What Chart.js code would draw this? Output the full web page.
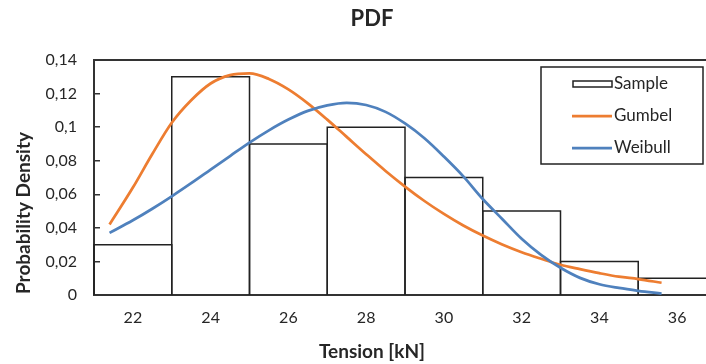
<!DOCTYPE html>
<html>
<head>
<meta charset="utf-8">
<title>PDF</title>
<script src="https://cdn.jsdelivr.net/npm/chart.js@4.4.1/dist/chart.umd.min.js"></script>
<style>
  html, body { margin: 0; padding: 0; overflow: hidden; background: #fff; }
  .chart-container { position: relative; width: 746px; height: 364px; }
</style>
</head>
<body>
<div class="chart-container"><canvas id="pdfChart"></canvas></div>
<script>
// histogram of the sample (bin centres, 2 kN wide bins)
const binCenters = [22, 24, 26, 28, 30, 32, 34, 36];
const binWidth = 2;
const sampleDensity = [0.03, 0.13, 0.09, 0.10, 0.07, 0.05, 0.02, 0.01];

// fitted densities
const curveX = [21.4, 22, 22.5, 23, 23.5, 24, 24.5, 25, 25.5, 26, 26.5, 27, 27.5, 28, 28.5,
  29, 29.5, 30, 30.5, 31, 31.5, 32, 32.5, 33, 33.5, 34, 34.5, 35, 35.6];
const gumbelPdf = [0.042, 0.064, 0.084, 0.1026, 0.116, 0.126, 0.131, 0.132, 0.1287, 0.1225,
  0.1142, 0.1045, 0.0942, 0.0839, 0.0739, 0.0646, 0.056, 0.0483, 0.0414, 0.0354, 0.0301,
  0.0255, 0.0216, 0.018, 0.0154, 0.013, 0.0109, 0.0095, 0.0073];
const weibullPdf = [0.037, 0.0445, 0.0514, 0.0588, 0.0666, 0.0747, 0.0828, 0.0908, 0.0981,
  0.1045, 0.1097, 0.113, 0.1145, 0.1132, 0.1091, 0.1022, 0.0934, 0.0825, 0.0707, 0.0572,
  0.0453, 0.0335, 0.0239, 0.0162, 0.0102, 0.0064, 0.0042, 0.0025, 0.0008];

const xTicks = [22, 24, 26, 28, 30, 32, 34, 36];

const FONT = "Lato, 'Open Sans', sans-serif";
const TEXT = "#262626";
const AXIS = "#333";

// bin outlines are stroked on the shared edges so neighbouring bins
// get one line, right after the bar dataset and below the curves
const binOutline = {
  id: "binOutline",
  afterDatasetDraw(chart, args) {
    const ds = chart.data.datasets[args.index];
    if (ds.type !== "bar") return;
    const ctx = chart.ctx;
    const xs = chart.scales.x;
    const ys = chart.scales.y;
    ctx.save();
    ctx.strokeStyle = ds.outlineColor;
    ctx.lineWidth = 1.5;
    ds.data.forEach((p) => {
      const l = xs.getPixelForValue(p.x - binWidth / 2);
      const r = xs.getPixelForValue(p.x + binWidth / 2);
      const t = ys.getPixelForValue(p.y);
      const b = ys.getPixelForValue(0);
      ctx.beginPath();
      ctx.moveTo(l, b);
      ctx.lineTo(l, t);
      ctx.lineTo(r, t);
      ctx.lineTo(r, b);
      ctx.stroke();
    });
    ctx.restore();
  }
};

// titles, plot frame top line and the boxed legend
const decor = {
  id: "decor",
  afterDraw(chart) {
    const ctx = chart.ctx;
    const area = chart.chartArea;
    ctx.save();

    ctx.strokeStyle = AXIS;
    ctx.lineWidth = 2;
    ctx.beginPath();
    ctx.moveTo(area.left, area.top);
    ctx.lineTo(area.right, area.top);
    ctx.stroke();

    ctx.fillStyle = TEXT;
    ctx.textAlign = "center";
    ctx.textBaseline = "middle";
    ctx.font = "bold 22px " + FONT;
    ctx.fillText("PDF", 372, 19);
    ctx.font = "bold 19px " + FONT;
    ctx.fillText("Tension [kN]", 372, 352);
    ctx.save();
    ctx.translate(24, 213);
    ctx.rotate(-Math.PI / 2);
    ctx.fillText("Probability Density", 0, 0);
    ctx.restore();

    // legend
    ctx.fillStyle = "#fff";
    ctx.fillRect(541, 67, 162, 97);
    ctx.strokeStyle = "#222";
    ctx.lineWidth = 1.5;
    ctx.strokeRect(541, 67, 162, 97);
    const rows = [84, 116, 148];
    const order = [2, 0, 1];
    ctx.font = "17px " + FONT;
    ctx.textAlign = "left";
    order.forEach((di, i) => {
      const ds = chart.data.datasets[di];
      const y = rows[i];
      if (ds.type === "bar") {
        ctx.strokeStyle = ds.outlineColor;
        ctx.lineWidth = 1.5;
        ctx.strokeRect(573, y - 3, 39, 6);
      } else {
        ctx.strokeStyle = ds.borderColor;
        ctx.lineWidth = 2.75;
        ctx.beginPath();
        ctx.moveTo(572, y);
        ctx.lineTo(612, y);
        ctx.stroke();
      }
      ctx.fillStyle = TEXT;
      ctx.fillText(ds.label, 614, y);
    });
    ctx.restore();
  }
};

new Chart(document.getElementById("pdfChart"), {
  data: {
    datasets: [
      {
        type: "line",
        label: "Gumbel",
        data: curveX.map((x, i) => ({ x: x, y: gumbelPdf[i] })),
        borderColor: "#ED7D31",
        borderWidth: 2.75,
        pointRadius: 0,
        cubicInterpolationMode: "monotone",
        order: 1,
      },
      {
        type: "line",
        label: "Weibull",
        data: curveX.map((x, i) => ({ x: x, y: weibullPdf[i] })),
        borderColor: "#4F81BD",
        borderWidth: 2.75,
        pointRadius: 0,
        cubicInterpolationMode: "monotone",
        order: 0,
      },
      {
        type: "bar",
        label: "Sample",
        data: binCenters.map((x, i) => ({ x: x, y: sampleDensity[i] })),
        backgroundColor: "rgba(255,255,255,0)",
        borderWidth: 0,
        outlineColor: "#222",
        barPercentage: 1,
        categoryPercentage: 1,
        order: 2,
      },
    ],
  },
  options: {
    responsive: true,
    maintainAspectRatio: false,
    animation: false,
    layout: { padding: { left: 0, right: 30, top: 60, bottom: 0 } },
    scales: {
      x: {
        type: "linear",
        min: 21,
        max: 37,
        offset: false,
        afterBuildTicks: (s) => { s.ticks = xTicks.map((v) => ({ value: v })); },
        afterFit: (s) => { s.height = 69; },
        grid: { display: false, drawTicks: false },
        border: { display: true, color: AXIS, width: 2 },
        ticks: { color: TEXT, font: { family: FONT, size: 16 }, padding: 13, maxRotation: 0 },
      },
      y: {
        min: 0,
        max: 0.14,
        afterFit: (s) => { s.width = 94; },
        grid: { drawOnChartArea: false, drawTicks: true, tickLength: -6, color: AXIS, lineWidth: 1.5 },
        border: { display: true, color: AXIS, width: 2 },
        ticks: {
          stepSize: 0.02,
          color: TEXT,
          font: { family: FONT, size: 16 },
          padding: 23,
          callback: (v) => String(+v.toFixed(2)).replace(".", ","),
        },
      },
    },
    plugins: {
      legend: { display: false },
      tooltip: { enabled: false },
    },
  },
  plugins: [binOutline, decor],
});
</script>
</body>
</html>
